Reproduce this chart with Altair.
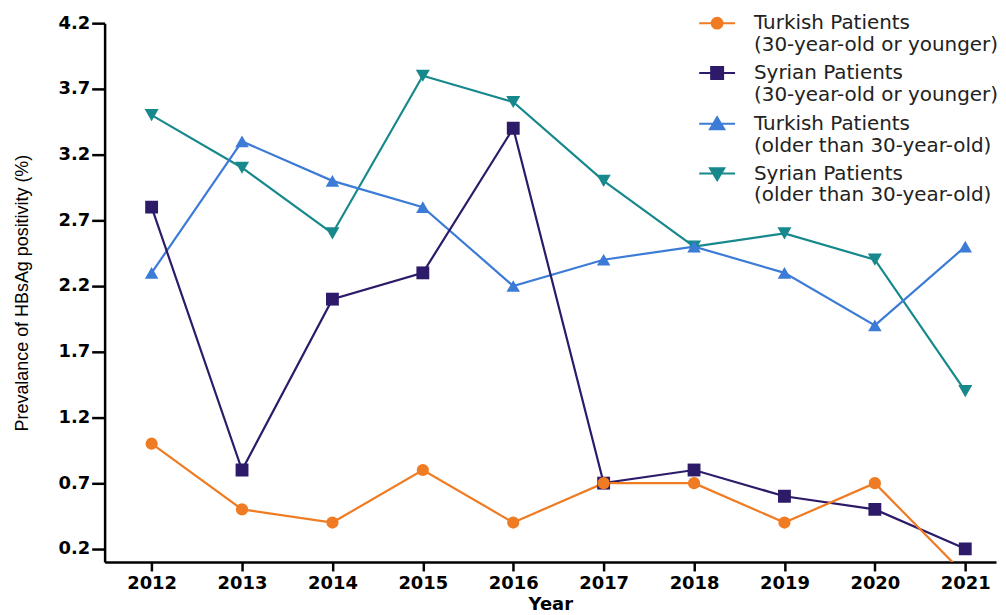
import altair as alt
import pandas as pd

years = [2012, 2013, 2014, 2015, 2016, 2017, 2018, 2019, 2020, 2021]
series_names = [
    "Turkish Patients|(30-year-old or younger)",
    "Syrian Patients|(30-year-old or younger)",
    "Turkish  Patients|(older than 30-year-old)",
    "Syrian Patients|(older than 30-year-old)",
]
turkish_young = [1.0, 0.5, 0.4, 0.8, 0.4, 0.7, 0.7, 0.4, 0.7, 0.0]
syrian_young = [2.8, 0.8, 2.1, 2.3, 3.4, 0.7, 0.8, 0.6, 0.5, 0.2]
turkish_old = [2.3, 3.3, 3.0, 2.8, 2.2, 2.4, 2.5, 2.3, 1.9, 2.5]
syrian_old = [3.5, 3.1, 2.6, 3.8, 3.6, 3.0, 2.5, 2.6, 2.4, 1.4]
y_ticks = [0.2, 0.7, 1.2, 1.7, 2.2, 2.7, 3.2, 3.7, 4.2]

colors = ["#EF7B22", "#2D1A69", "#3C7BD6", "#17888C"]
plot_shapes = ["circle", "square", "triangle-up", "triangle-down"]
plot_sizes = [150, 200, 220, 220]

legend_shapes = [
    "M-3,0H3M-0.9,0A0.9,0.9 0 1,1 0.9,0A0.9,0.9 0 1,1 -0.9,0Z",
    "M-3,0H3M-1,-1H1V1H-1Z",
    "M-3,0H3M0,-1.1L1.2,0.9H-1.2Z",
    "M-3,0H3M0,1.1L1.2,-0.9H-1.2Z",
]

values_by_series = [turkish_young, syrian_young, turkish_old, syrian_old]
rows = []
for idx in [3, 2, 1, 0]:
    for yr, v in zip(years, values_by_series[idx]):
        rows.append({"year": yr, "value": v, "series": series_names[idx], "order": idx})
df = pd.DataFrame(rows)

FONT = "DejaVu Sans"

x_enc = alt.X(
    "year:Q",
    scale=alt.Scale(domain=[2011.48, 2021.34], nice=False, zero=False),
    axis=alt.Axis(values=years, format="d", title="Year", tickSize=9,
                  titlePadding=3, labelPadding=4),
)
y_enc = alt.Y(
    "value:Q",
    scale=alt.Scale(domain=[0.1, 4.2], nice=False, zero=False),
    axis=alt.Axis(values=y_ticks, format=".1f",
                  title="Prevalance of HBsAg positivity (%)", tickSize=13,
                  labelPadding=2, titlePadding=27),
)
color_enc = alt.Color("series:N", scale=alt.Scale(domain=series_names, range=colors), legend=None)

lines = alt.Chart(df).mark_line(strokeWidth=2.2, clip=True).encode(
    x=x_enc, y=y_enc, color=color_enc, detail="series:N",
)

points = alt.Chart(df).mark_point(filled=True, opacity=1, clip=True).encode(
    x=x_enc, y=y_enc, color=color_enc,
    shape=alt.Shape("series:N", scale=alt.Scale(domain=series_names, range=plot_shapes), legend=None),
    size=alt.Size("series:N", scale=alt.Scale(domain=series_names, range=plot_sizes), legend=None),
    order=alt.Order("order:Q", sort="descending"),
)

legend_cfg = alt.Legend(
    orient="none", legendX=605, legendY=-10, title=None,
    labelExpr="split(datum.label, '|')",
    labelFont=FONT, labelFontSize=20, labelColor="#222222",
    labelOffset=27, labelLimit=0, symbolSize=144, symbolStrokeWidth=2,
    rowPadding=8, padding=0,
)
legend_layer = alt.Chart(df).transform_filter("datum.value < -1000").mark_point(
    filled=True, opacity=1, strokeWidth=2
).encode(
    x=x_enc, y=y_enc,
    shape=alt.Shape("series:N", scale=alt.Scale(domain=series_names, range=legend_shapes), legend=legend_cfg),
    fill=alt.Fill("series:N", scale=alt.Scale(domain=series_names, range=colors), legend=legend_cfg),
    stroke=alt.Stroke("series:N", scale=alt.Scale(domain=series_names, range=colors), legend=legend_cfg),
)

chart = alt.layer(lines, points, legend_layer).resolve_scale(
    shape="independent", fill="independent", stroke="independent"
).properties(
    width=895, height=541,
    autosize=alt.AutoSizeParams(type="none"),
    padding={"left": 97, "top": 14, "right": 2, "bottom": 52},
).configure_view(stroke=None).configure_axis(
    grid=False, domainColor="black", domainWidth=2.5, tickColor="black", tickWidth=2.5,
    labelFont=FONT, labelFontSize=18, labelFontWeight="bold", labelColor="black",
    titleColor="black",
).configure_axisX(
    titleFont=FONT, titleFontSize=18, titleFontWeight="bold",
).configure_axisY(
    titleFont="Liberation Sans", titleFontSize=18, titleFontWeight="normal",
)

chart.save("out.html", embed_options={"renderer": "svg", "actions": False})
